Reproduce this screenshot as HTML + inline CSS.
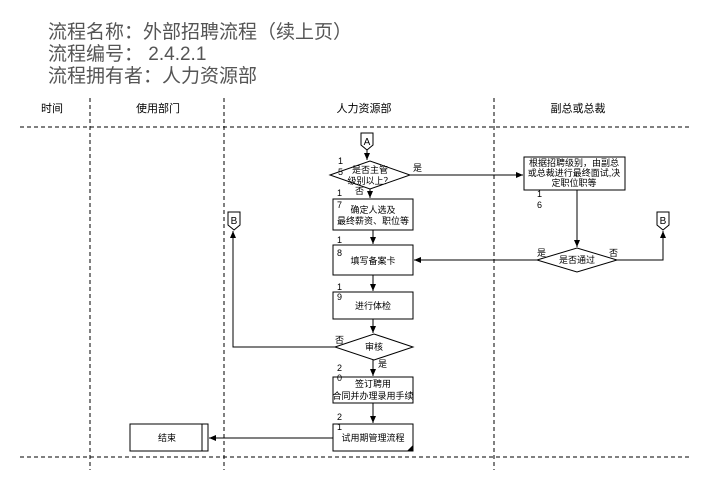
<!DOCTYPE html>
<html><head><meta charset="utf-8"><style>
body{margin:0;background:#fff;width:720px;height:498px;overflow:hidden}
svg{font-family:"Liberation Sans","Noto Sans CJK SC",sans-serif}
</style></head><body>
<svg width="720" height="498" viewBox="0 0 720 498">
<defs><marker id="a" markerWidth="8" markerHeight="8" refX="7" refY="4" orient="auto" markerUnits="userSpaceOnUse"><path d="M0,1 L7,4 L0,7z" fill="#000"/></marker></defs>
<g font-size="19" fill="#555">
<text x="48" y="38">流程名称：外部招聘流程（续上页）</text>
<text x="48" y="60">流程编号：  2.4.2.1</text>
<text x="48" y="82">流程拥有者：人力资源部</text>
</g>
<g stroke="#000" stroke-dasharray="4,3" fill="none">
<line x1="20" y1="127" x2="692" y2="127"/>
<line x1="20" y1="457" x2="692" y2="457"/>
<line x1="90" y1="98" x2="90" y2="470"/>
<line x1="224" y1="98" x2="224" y2="470"/>
<line x1="494" y1="98" x2="494" y2="470"/>
</g>
<g font-size="11" text-anchor="middle" fill="#000">
<text x="52" y="112">时间</text><text x="158" y="112">使用部门</text>
<text x="364" y="112">人力资源部</text><text x="578" y="112">副总或总裁</text>
</g>
<g stroke="#000" fill="#fff" stroke-width="1">
<path d="M361,133 H373 V145 L367,150 L361,145Z"/>
<path d="M228,212 H240 V225 L234,230 L228,225Z"/>
<path d="M657,212 H669 V225 L663,230 L657,225Z"/>
<path d="M330,175 L370,161 L410,175 L370,189Z"/>
<rect x="524" y="157" width="101" height="33"/>
<rect x="333" y="199" width="80" height="31"/>
<rect x="333" y="245" width="80" height="30"/>
<path d="M537,260 L577,248 L617,260 L577,272Z"/>
<rect x="333" y="292" width="80" height="27"/>
<path d="M335,347 L374,334 L413,347 L374,360Z"/>
<rect x="333" y="377" width="80" height="26"/>
<rect x="333" y="424" width="80" height="27"/>
<rect x="130" y="424" width="78" height="27"/>
<line x1="202" y1="424" x2="202" y2="451"/>
</g>
<path d="M407,451 L413,445 L413,451Z" fill="#000"/>
<g stroke="#000" fill="none" marker-end="url(#a)">
<line x1="367" y1="150" x2="367" y2="160"/>
<line x1="370" y1="189" x2="370" y2="198"/>
<line x1="410" y1="175" x2="523" y2="175"/>
<line x1="577" y1="190" x2="577" y2="247"/>
<polyline points="617,260 663,260 663,231"/>
<line x1="537" y1="260" x2="414" y2="260"/>
<line x1="373" y1="230" x2="373" y2="244"/>
<line x1="373" y1="275" x2="373" y2="291"/>
<line x1="373" y1="319" x2="373" y2="333"/>
<polyline points="335,347 233,347 233,231"/>
<line x1="373" y1="360" x2="373" y2="376"/>
<line x1="373" y1="403" x2="373" y2="423"/>
<line x1="333" y1="438" x2="209" y2="438"/>
</g>
<g font-size="9" fill="#000">
<text x="367" y="145" text-anchor="middle" font-size="10">A</text>
<text x="234" y="224" text-anchor="middle" font-size="10">B</text>
<text x="663" y="224" text-anchor="middle" font-size="10">B</text>
<text x="370" y="173" text-anchor="middle">是否主管</text>
<text x="370" y="184" text-anchor="middle">级别以上？</text>
<text x="338" y="164">1</text><text x="338" y="175">5</text>
<text x="413" y="171">是</text><text x="355" y="194">否</text>
<text x="574" y="166" text-anchor="middle">根据招聘级别，由副总</text>
<text x="574" y="176" text-anchor="middle">或总裁进行最终面试,决</text>
<text x="574" y="186" text-anchor="middle">定职位职等</text>
<text x="537" y="197">1</text><text x="537" y="208">6</text>
<text x="337" y="196">1</text><text x="337" y="208">7</text>
<text x="373" y="213" text-anchor="middle">确定人选及</text>
<text x="373" y="224" text-anchor="middle">最终薪资、职位等</text>
<text x="337" y="243">1</text><text x="337" y="256">8</text>
<text x="373" y="264" text-anchor="middle">填写备案卡</text>
<text x="577" y="263" text-anchor="middle">是否通过</text>
<text x="537" y="256">是</text><text x="609" y="256">否</text>
<text x="337" y="290">1</text><text x="337" y="300">9</text>
<text x="373" y="309" text-anchor="middle">进行体检</text>
<text x="374" y="350" text-anchor="middle">审核</text>
<text x="335" y="343">否</text><text x="378" y="367">是</text>
<text x="337" y="371">2</text><text x="337" y="381">0</text>
<text x="373" y="387" text-anchor="middle">签订聘用</text>
<text x="373" y="399" text-anchor="middle">合同并办理录用手续</text>
<text x="337" y="420">2</text><text x="337" y="430">1</text>
<text x="373" y="441" text-anchor="middle">试用期管理流程</text>
<text x="167" y="441" text-anchor="middle">结束</text>
</g>
</svg>
</body></html>
